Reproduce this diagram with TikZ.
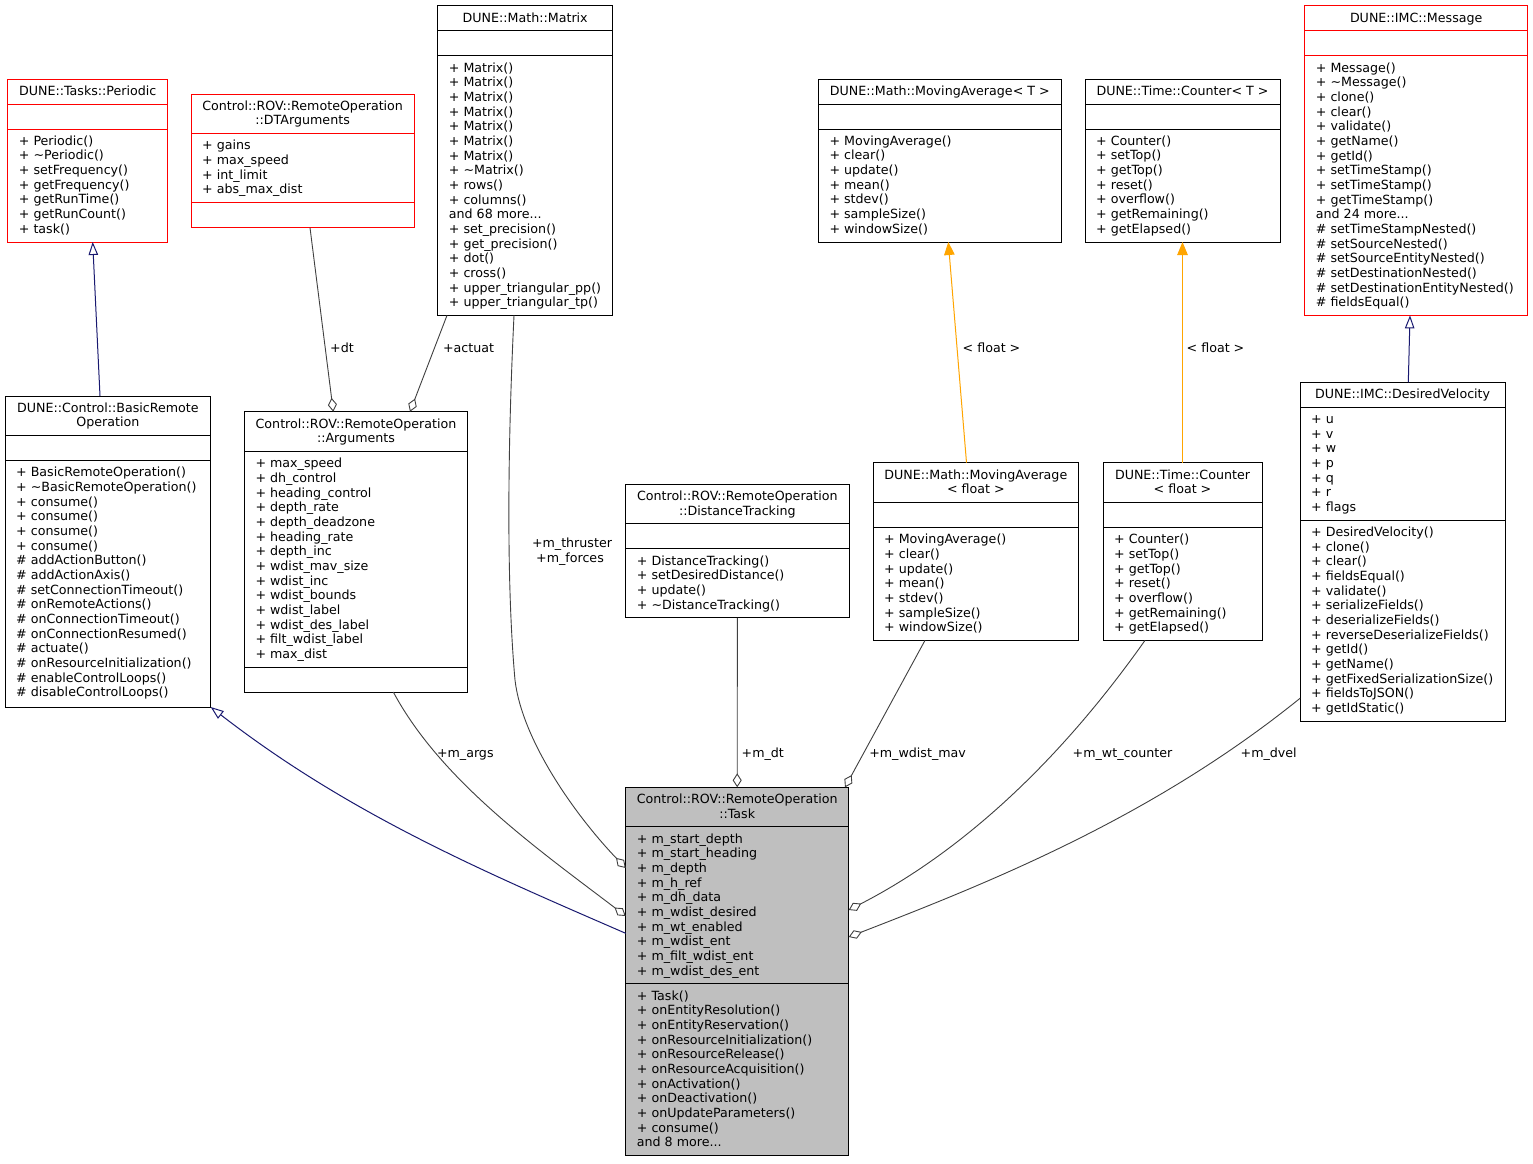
\documentclass[tikz,border=0pt]{standalone}
\usepackage{fontspec}
\newfontfamily\dvfam{DejaVu Sans}
\newcommand\dvf{\dvfam\fontsize{12.65pt}{14.667pt}\selectfont}
\newcommand\thdots{...}
\usetikzlibrary{arrows.meta}
\definecolor{taskgray}{HTML}{BFBFBF}
\definecolor{inhblue}{HTML}{191970}
\definecolor{agggray}{HTML}{404040}
\definecolor{tmplorange}{HTML}{FFA500}
\tikzset{
 cls/.style={draw=black, line width=1pt, fill=white, inner sep=0pt, outer sep=0pt, anchor=north west},
 redcls/.style={cls, draw=red},
 taskcls/.style={cls, fill=taskgray},
 txt/.style={anchor=base west, inner sep=0pt, font=\dvf},
 ttl/.style={anchor=base, inner sep=0pt, font=\dvf},
 lbl/.style={anchor=base, inner sep=0pt, font=\dvf},
 inh/.style={draw=inhblue, line width=1pt, -{Triangle[open, length=13pt, width=9.5pt]}},
 agg/.style={draw=agggray, line width=0.9pt, -{Diamond[open, length=14pt, width=9pt]}},
 tmpl/.style={draw=tmplorange, line width=1pt, -{Triangle[length=13pt, width=10.5pt, fill=tmplorange]}},
}
% #1 prefix, #2 x origin, #3 first baseline, #4 list
\newcommand\mlines[4]{\foreach \t [count=\i] in {#4} {\node[txt] (#1\i) at (#2,{#3+(\i-1)*14.667}) {\t};}}
\newcommand\mtitle[4]{\foreach \t [count=\i] in {#4} {\node[ttl] (#1\i) at (#2,{#3+(\i-1)*14.667}) {\t};}}
% #1 colour, #2 x1, #3 x2, #4 y
\newcommand\umlsep[4]{\draw[draw=#1, line width=1pt] (#2,#4) -- (#3,#4);}
\begin{document}
\begin{tikzpicture}[x=1pt,y=-1pt]
\useasboundingbox[fill=white] (0,0) rectangle (1533,1163);

% ---------- DUNE::Tasks::Periodic
\node[redcls, minimum width=160pt, minimum height=163pt] (per) at (7.7,79) {};
\umlsep{red}{7.7}{167.7}{104}
\umlsep{red}{7.7}{167.7}{129}
\mtitle{per-t}{87.7}{95.3}{DUNE::Tasks::Periodic}
\mlines{per-m}{18.7}{145.3}{+ Periodic(), + \textasciitilde Periodic(), + setFrequency(), + getFrequency(), + getRunTime(), + getRunCount(), + task()}

% ---------- DTArguments
\node[redcls, minimum width=223.3pt, minimum height=133.67pt] (dta) at (191,94) {};
\umlsep{red}{191}{414.3}{133.67}
\umlsep{red}{191}{414.3}{202.67}
\mtitle{dta-t}{302.65}{110.3}{Control::ROV::RemoteOperation, ::DTArguments}
\mlines{dta-a}{202}{149.97}{+ gains, + max\_speed, + int\_limit, + abs\_max\_dist}

% ---------- DUNE::Math::Matrix
\node[cls, minimum width=175pt, minimum height=309.67pt] (mtx) at (437.7,5.7) {};
\umlsep{black}{437.7}{612.7}{30.7}
\umlsep{black}{437.7}{612.7}{55.7}
\mtitle{mtx-t}{525.2}{22}{DUNE::Math::Matrix}
\mlines{mtx-m}{448.7}{72}{+ Matrix(), + Matrix(), + Matrix(), + Matrix(), + Matrix(), + Matrix(), + Matrix(), + \textasciitilde Matrix(), + rows(), + columns(), and 68 more\thdots, + set\_precision(), + get\_precision(), + dot(), + cross(), + upper\_triangular\_pp(), + upper\_triangular\_tp()}

% ---------- MovingAverage< T >
\node[cls, minimum width=243pt, minimum height=163pt] (mat) at (818.3,79) {};
\umlsep{black}{818.3}{1061.3}{104}
\umlsep{black}{818.3}{1061.3}{129}
\mtitle{mat-t}{939.8}{95.3}{DUNE::Math::MovingAverage< T >}
\mlines{mat-m}{829.3}{145.3}{+ MovingAverage(), + clear(), + update(), + mean(), + stdev(), + sampleSize(), + windowSize()}

% ---------- Counter< T >
\node[cls, minimum width=195pt, minimum height=163pt] (ct) at (1085,79) {};
\umlsep{black}{1085}{1280}{104}
\umlsep{black}{1085}{1280}{129}
\mtitle{ct-t}{1182.5}{95.3}{DUNE::Time::Counter< T >}
\mlines{ct-m}{1096}{145.3}{+ Counter(), + setTop(), + getTop(), + reset(), + overflow(), + getRemaining(), + getElapsed()}

% ---------- DUNE::IMC::Message
\node[redcls, minimum width=223pt, minimum height=309.67pt] (msg) at (1304.7,5.7) {};
\umlsep{red}{1304.7}{1527.7}{30.7}
\umlsep{red}{1304.7}{1527.7}{55.7}
\mtitle{msg-t}{1416.2}{22}{DUNE::IMC::Message}
\mlines{msg-m}{1315.7}{72}{+ Message(), + \textasciitilde Message(), + clone(), + clear(), + validate(), + getName(), + getId(), + setTimeStamp(), + setTimeStamp(), + getTimeStamp(), and 24 more\thdots, \# setTimeStampNested(), \# setSourceNested(), \# setSourceEntityNested(), \# setDestinationNested(), \# setDestinationEntityNested(), \# fieldsEqual()}

% ---------- BasicRemoteOperation
\node[cls, minimum width=205.7pt, minimum height=311pt] (bro) at (5,396) {};
\umlsep{black}{5}{210.7}{435.67}
\umlsep{black}{5}{210.7}{460.67}
\mtitle{bro-t}{107.85}{412.3}{DUNE::Control::BasicRemote, Operation}
\mlines{bro-m}{16}{476.97}{+ BasicRemoteOperation(), + \textasciitilde BasicRemoteOperation(), + consume(), + consume(), + consume(), + consume(), \# addActionButton(), \# addActionAxis(), \# setConnectionTimeout(), \# onRemoteActions(), \# onConnectionTimeout(), \# onConnectionResumed(), \# actuate(), \# onResourceInitialization(), \# enableControlLoops(), \# disableControlLoops()}

% ---------- Arguments
\node[cls, minimum width=223.4pt, minimum height=280.33pt] (args) at (244.3,411.7) {};
\umlsep{black}{244.3}{467.7}{451.37}
\umlsep{black}{244.3}{467.7}{667.03}
\mtitle{args-t}{356}{428}{Control::ROV::RemoteOperation, ::Arguments}
\mlines{args-a}{255.3}{467.67}{+ max\_speed, + dh\_control, + heading\_control, + depth\_rate, + depth\_deadzone, + heading\_rate, + depth\_inc, + wdist\_mav\_size, + wdist\_inc, + wdist\_bounds, + wdist\_label, + wdist\_des\_label, + filt\_wdist\_label, + max\_dist}

% ---------- DistanceTracking
\node[cls, minimum width=223.3pt, minimum height=133.67pt] (dtr) at (625.7,484.3) {};
\umlsep{black}{625.7}{849}{523.97}
\umlsep{black}{625.7}{849}{548.97}
\mtitle{dtr-t}{737.35}{500.6}{Control::ROV::RemoteOperation, ::DistanceTracking}
\mlines{dtr-m}{636.7}{565.27}{+ DistanceTracking(), + setDesiredDistance(), + update(), + \textasciitilde DistanceTracking()}

% ---------- MovingAverage< float >
\node[cls, minimum width=205.7pt, minimum height=177.67pt] (maf) at (873,462.7) {};
\umlsep{black}{873}{1078.7}{502.37}
\umlsep{black}{873}{1078.7}{527.37}
\mtitle{maf-t}{975.85}{479}{DUNE::Math::MovingAverage, < float >}
\mlines{maf-m}{884}{543.67}{+ MovingAverage(), + clear(), + update(), + mean(), + stdev(), + sampleSize(), + windowSize()}

% ---------- Counter< float >
\node[cls, minimum width=159pt, minimum height=177.67pt] (cf) at (1103,462.7) {};
\umlsep{black}{1103}{1262}{502.37}
\umlsep{black}{1103}{1262}{527.37}
\mtitle{cf-t}{1182.5}{479}{DUNE::Time::Counter, < float >}
\mlines{cf-m}{1114}{543.67}{+ Counter(), + setTop(), + getTop(), + reset(), + overflow(), + getRemaining(), + getElapsed()}

% ---------- DesiredVelocity
\node[cls, minimum width=205.3pt, minimum height=339pt] (dv) at (1300,382.3) {};
\umlsep{black}{1300}{1505.3}{407.3}
\umlsep{black}{1300}{1505.3}{520.3}
\mtitle{dv-t}{1402.65}{398.6}{DUNE::IMC::DesiredVelocity}
\mlines{dv-a}{1311}{423.6}{+ u, + v, + w, + p, + q, + r, + flags}
\mlines{dv-m}{1311}{536.6}{+ DesiredVelocity(), + clone(), + clear(), + fieldsEqual(), + validate(), + serializeFields(), + deserializeFields(), + reverseDeserializeFields(), + getId(), + getName(), + getFixedSerializationSize(), + fieldsToJSON(), + getIdStatic()}

% ---------- Task
\node[taskcls, minimum width=223pt, minimum height=368.33pt] (task) at (625.7,787.3) {};
\umlsep{black}{625.7}{848.7}{826.97}
\umlsep{black}{625.7}{848.7}{983.97}
\mtitle{task-t}{737.2}{803.6}{Control::ROV::RemoteOperation, ::Task}
\mlines{task-a}{636.7}{843.27}{+ m\_start\_depth, + m\_start\_heading, + m\_depth, + m\_h\_ref, + m\_dh\_data, + m\_wdist\_desired, + m\_wt\_enabled, + m\_wdist\_ent, + m\_filt\_wdist\_ent, + m\_wdist\_des\_ent}
\mlines{task-m}{636.7}{1000.27}{+ Task(), + onEntityResolution(), + onEntityReservation(), + onResourceInitialization(), + onResourceRelease(), + onResourceAcquisition(), + onActivation(), + onDeactivation(), + onUpdateParameters(), + consume(), and 8 more\thdots}

% ---------- inheritance
\draw[inh] ([xshift=-7.85pt]bro.north) -- ([xshift=5pt]per.south);
\draw[inh] ([yshift=-146pt]task.north west) .. controls (487,873) and (350,815) .. (bro.south east);
\draw[inh] ([xshift=5.65pt]dv.north) -- ([xshift=-6.2pt]msg.south);

% ---------- template instances
\draw[tmpl] ([xshift=-9.35pt]maf.north) -- ([xshift=8.5pt]mat.south);
\draw[tmpl] (cf.north) -- (ct.south);
\node[lbl] (l-f1) at (991.5,352.5) {< float >};
\node[lbl] (l-f2) at (1215.5,352.5) {< float >};

% ---------- aggregations
\draw[agg] ([xshift=7.35pt]dta.south) -- ([xshift=-22.7pt]args.north);
\draw[agg] ([xshift=-78.2pt]mtx.south) -- ([xshift=54pt]args.north);
\node[lbl] (l-dt) at (342,352.5) {+dt};
\node[lbl] (l-act) at (468.5,352.5) {+actuat};

\draw[agg] ([xshift=-11.2pt]mtx.south) .. controls (508,440) and (506,580) .. (515,680)
   .. controls (522,740) and (575,815) .. ([yshift=-80.7pt]task.north west);
\node[lbl] (l-th) at (572,547.5) {+m\_thruster};
\node[lbl] (l-fo) at (570,562.2) {+m\_forces};

\draw[agg] ([xshift=37.3pt]args.south) .. controls (441,781) and (539,850) .. ([yshift=-128.7pt]task.north west);
\node[lbl] (l-args) at (465.3,757.7) {+m\_args};

\draw[agg] (dtr.south) -- (task.north);
\node[lbl] (l-mdt) at (762.8,757.7) {+m\_dt};

\draw[agg] ([xshift=-50.85pt]maf.south) -- ([xshift=-3.7pt]task.north east);
\node[lbl] (l-mav) at (917.6,757.7) {+m\_wdist\_mav};

\draw[agg] ([xshift=-37.5pt]cf.south) .. controls (1050,775) and (950,858) .. ([yshift=-122.7pt]task.north east);
\node[lbl] (l-wtc) at (1122.5,757.7) {+m\_wt\_counter};

\draw[agg] ([yshift=-316pt]dv.north west) .. controls (1152,818) and (988,883) .. ([yshift=-149.7pt]task.north east);
\node[lbl] (l-dvel) at (1268.7,757.7) {+m\_dvel};
\end{tikzpicture}
\end{document}
